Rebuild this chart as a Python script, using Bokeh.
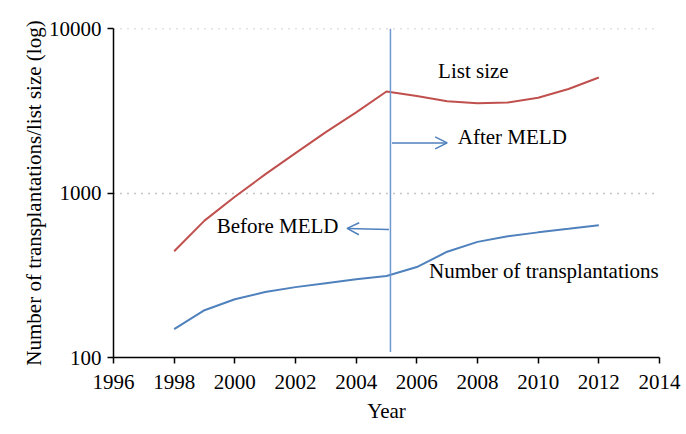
from bokeh.plotting import figure
from bokeh.models import (Range1d, FixedTicker, PrintfTickFormatter, Arrow, OpenHead,
                          ColumnDataSource)
from bokeh.core.properties import value
from bokeh.embed import file_html
from bokeh.resources import INLINE

# ---- data ----
years = [1998, 1999, 2000, 2001, 2002, 2003, 2004, 2005, 2006, 2007, 2008, 2009, 2010, 2011, 2012]
list_size = [443, 680, 950, 1300, 1750, 2350, 3100, 4150, 3900, 3620, 3520, 3560, 3800, 4300, 5050]
transplants = [149, 194, 226, 250, 268, 283, 299, 313, 355, 440, 505, 547, 577, 606, 638]
x_ticks = [1996, 1998, 2000, 2002, 2004, 2006, 2008, 2010, 2012, 2014]
y_ticks = [100, 1000, 10000]
meld_year = 2005.13

FONT = "Liberation Serif"
RED = "#c0504d"
BLUE = "#4f81bd"
LIGHTBLUE = "#6f98d0"

p = figure(width=686, height=434, output_backend="svg", toolbar_location=None,
           y_axis_type="log", x_range=Range1d(1996, 2014), y_range=Range1d(100, 10030),
           min_border_left=113, min_border_right=27, min_border_top=28, min_border_bottom=77)
p.outline_line_color = None
p.background_fill_color = "white"
p.border_fill_color = "white"

# grid
p.xgrid.grid_line_color = None
p.ygrid.ticker = FixedTicker(ticks=[1000, 10000])
p.ygrid.grid_line_color = "#8a8a8a"
p.ygrid.grid_line_dash = "1 6"
p.ygrid.grid_line_width = 1.5

# axes
p.xaxis.ticker = FixedTicker(ticks=x_ticks)
p.yaxis.ticker = FixedTicker(ticks=y_ticks)
p.yaxis.formatter = PrintfTickFormatter(format="%d")
for ax in (p.xaxis[0], p.yaxis[0]):
    ax.axis_line_color = "black"
    ax.axis_line_width = 1.5
    ax.major_tick_line_color = "black"
    ax.major_tick_line_width = 1.5
    ax.major_tick_in = 0
    ax.major_tick_out = 6
    ax.minor_tick_line_color = None
    ax.major_label_text_font = FONT
    ax.major_label_text_font_size = "21px"
    ax.major_label_text_color = "black"
    ax.axis_label_text_font = FONT
    ax.axis_label_text_font_size = "21px"
    ax.axis_label_text_font_style = "normal"
    ax.axis_label_text_color = "black"
p.xaxis.axis_label = "Year"
p.yaxis.axis_label = "Number of transplantations/list size (log)"
p.xaxis.major_label_standoff = 11
p.xaxis.axis_label_standoff = 7
p.yaxis.major_label_standoff = 6
p.yaxis.axis_label_standoff = 0

# series
src = ColumnDataSource(dict(year=years, ls=list_size, tx=transplants))
p.line("year", "ls", source=src, line_color=RED, line_width=2)
p.line("year", "tx", source=src, line_color=BLUE, line_width=2)

# MELD vertical line
p.segment(x0=[meld_year], y0=[108], x1=[meld_year], y1=[10030], line_color=LIGHTBLUE, line_width=1.5)

# arrows
p.add_layout(Arrow(end=OpenHead(size=12, line_color=BLUE, line_width=1.5),
                   x_start=meld_year + 0.05, y_start=2020, x_end=2007.0, y_end=2020,
                   line_color=BLUE, line_width=1.5))
p.add_layout(Arrow(end=OpenHead(size=12, line_color=BLUE, line_width=1.5),
                   x_start=meld_year - 0.05, y_start=600, x_end=2003.7, y_end=610,
                   line_color=BLUE, line_width=1.5))

# labels
labels = ["List size", "After MELD", "Before MELD", "Number of transplantations"]
lx = [2006.7, 2007.35, 1999.4, 2006.4]
ly = [5500, 2200, 630, 336]
p.text(x=lx, y=ly, text=labels, text_font=value(FONT), text_font_size="21px",
       text_color="black", text_align="left", text_baseline="middle")

open("out.html", "w").write(file_html(p, INLINE))
